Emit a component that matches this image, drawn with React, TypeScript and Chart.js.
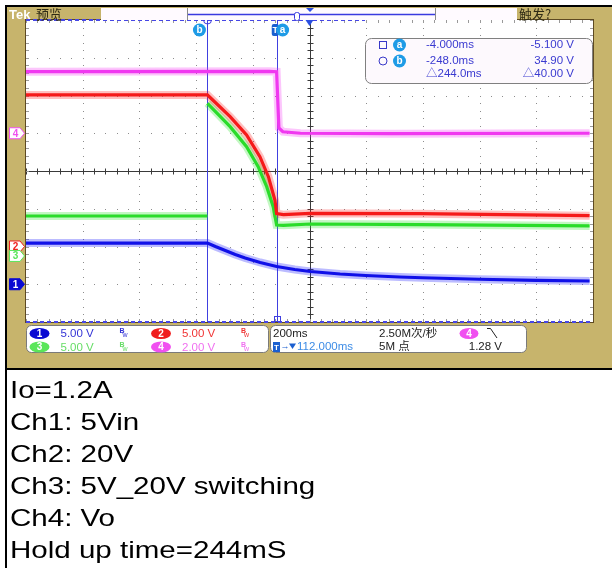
import React, { useEffect, useRef } from "react";
import { Chart, registerables } from "chart.js";

Chart.register(...registerables);

const W = 612;
const H = 568;

// Horizontal: 200 ms/div, 10 divisions, delay 112 ms
const timePerDivMs = 200;
const horizDelayMs = 112;
const horizDivs = 10;
const vertDivs = 8;

const channelLabels = ["1", "2", "3", "4"];
const channelVoltsPerDiv = [5, 5, 5, 2];
const channelGroundDiv = [-3, -2, -2.25, 1];
const channelScaleText = ["5.00 V", "5.00 V", "5.00 V", "2.00 V"];
const channelColors = ["#1010E8", "#F51A1A", "#2ADC2A", "#F038F0"];
const channelHalos = ["rgba(30,30,255,0.3)", "rgba(255,30,30,0.28)", "rgba(40,225,40,0.28)", "rgba(245,50,245,0.28)"];
const channelTextColors = ["#3434D6", "#F03434", "#66DD66", "#F070F0"];
const channelBadgeColors = ["#0A0AD2", "#F01E1E", "#5AE65A", "#F050F0"];

// Ch1: 5Vin
const ch1TimeMs = [-888, -248, -220, -185, -150, -115, -62, -4, 60, 115, 220, 310, 430, 510, 710, 910, 1100];
const ch1Volts = [5.46, 5.46, 5.0, 4.47, 3.94, 3.48, 2.88, 2.35, 1.95, 1.69, 1.36, 1.16, 0.96, 0.86, 0.66, 0.52, 0.43];
// Ch2: 20V
const ch2TimeMs = [-888, -248, -168, -110, -63, -33, -10, -4, 20, 115, 500, 1100];
const ch2Volts = [20.07, 20.07, 17.19, 14.77, 11.89, 9.25, 6.16, 4.35, 4.22, 4.4, 4.35, 4.08];
// Ch3: 5V_20V switching (fast edge at cursor b is not drawn as a trace)
const ch3TimeMs = [-888, -248, -248, -248, -168, -110, -69, -39, -16, -4, 20, 115, 500, 1100];
const ch3Volts = [5.29, 5.29, null, 20.22, 17.12, 14.47, 11.82, 9.17, 6.52, 4.1, 4.05, 4.23, 4.15, 3.97];
// Ch4: Vo
const ch4TimeMs = [-888, -30, -4, 4, 18, 80, 400, 1100];
const ch4Volts = [3.26, 3.28, 3.26, 0.28, 0.08, 0.0, -0.02, 0.0];

const cursorATimeMs = -4;
const cursorBTimeMs = -248;
const cursorTimeText = ["-4.000ms", "-248.0ms", "△244.0ms"];
const cursorVoltText = ["-5.100 V", "34.90 V", "△40.00 V"];

const timebaseText = "200ms";
const sampleRateText = "2.50M次/秒";
const recordText = "5M 点";
const triggerLevelText = "1.28 V";
const delayText = "112.000ms";

const captionLines = ["Io=1.2A", "Ch1: 5Vin", "Ch2: 20V", "Ch3: 5V_20V switching", "Ch4: Vo", "Hold up time=244mS"];

const KHAKI = "#C7B46C";
const UI = "'Liberation Sans', 'Noto Sans CJK SC', sans-serif";

function rr(ctx: CanvasRenderingContext2D, x: number, y: number, w: number, h: number, r: number) {
  ctx.beginPath();
  ctx.moveTo(x + r, y);
  ctx.lineTo(x + w - r, y);
  ctx.arcTo(x + w, y, x + w, y + r, r);
  ctx.lineTo(x + w, y + h - r);
  ctx.arcTo(x + w, y + h, x + w - r, y + h, r);
  ctx.lineTo(x + r, y + h);
  ctx.arcTo(x, y + h, x, y + h - r, r);
  ctx.lineTo(x, y + r);
  ctx.arcTo(x, y, x + r, y, r);
  ctx.closePath();
}

function badge(ctx: CanvasRenderingContext2D, cx: number, cy: number, rx: number, ry: number, fill: string, label: string) {
  ctx.beginPath();
  ctx.ellipse(cx, cy, rx, ry, 0, 0, Math.PI * 2);
  ctx.fillStyle = fill;
  ctx.fill();
  ctx.fillStyle = "#fff";
  ctx.font = `bold 10px ${UI}`;
  ctx.textAlign = "center";
  ctx.textBaseline = "middle";
  ctx.fillText(label, cx, cy + 0.5);
}

function bw(ctx: CanvasRenderingContext2D, x: number, y: number, color: string) {
  ctx.fillStyle = color;
  ctx.textAlign = "left";
  ctx.textBaseline = "middle";
  ctx.font = `bold 7px ${UI}`;
  ctx.fillText("B", x, y - 2);
  ctx.font = `7px ${UI}`;
  ctx.fillText("w", x + 3, y + 2);
}

const scopePlugin = {
  id: "scope",
  beforeDraw(chart: any) {
    const ctx: CanvasRenderingContext2D = chart.ctx;
    const a = chart.chartArea;
    const xs = chart.scales.x;
    const ys = chart.scales.y;
    const xMin = xs.min;
    const yMin = ys.min;
    ctx.save();
    ctx.fillStyle = "#fff";
    ctx.fillRect(0, 0, W, H);
    ctx.fillStyle = KHAKI;
    ctx.fillRect(7, 7, W - 7, 361);
    ctx.fillStyle = "#000";
    ctx.fillRect(5, 5, 2, H - 5);
    ctx.fillRect(5, 5, W - 5, 2);
    ctx.fillRect(5, 368, W - 5, 2);
    ctx.fillStyle = "#fff";
    ctx.fillRect(a.left, a.top, a.right - a.left, a.bottom - a.top);

    const gx = (i: number) => xs.getPixelForValue(xMin + (i * timePerDivMs) / 5);
    const gy = (j: number) => ys.getPixelForValue(yMin + j / 5);
    const nx = horizDivs * 5;
    const ny = vertDivs * 5;
    // dotted graticule
    ctx.fillStyle = "#8c8c8c";
    for (let i = 1; i < horizDivs; i++) {
      if (i === horizDivs / 2) continue;
      const x = Math.round(gx(i * 5));
      for (let j = 0; j <= ny; j++) ctx.fillRect(x, Math.round(gy(j)), 1, 1);
    }
    for (let j = 1; j < vertDivs; j++) {
      if (j === vertDivs / 2) continue;
      const y = Math.round(gy(j * 5));
      for (let i = 0; i <= nx; i++) ctx.fillRect(Math.round(gx(i)), y, 1, 1);
    }
    // center cross with ticks
    const xc = Math.round(gx(nx / 2)) + 0.5;
    const yc = Math.round(gy(ny / 2)) + 0.5;
    ctx.strokeStyle = "#3a3a3a";
    ctx.lineWidth = 1;
    ctx.beginPath();
    ctx.moveTo(xc, a.top);
    ctx.lineTo(xc, a.bottom);
    ctx.moveTo(a.left, yc);
    ctx.lineTo(a.right, yc);
    for (let j = 0; j <= ny; j++) {
      const y = Math.round(gy(j)) + 0.5;
      ctx.moveTo(xc - 3, y);
      ctx.lineTo(xc + 3, y);
    }
    for (let i = 0; i <= nx; i++) {
      const x = Math.round(gx(i)) + 0.5;
      ctx.moveTo(x, yc - 3);
      ctx.lineTo(x, yc + 3);
    }
    ctx.stroke();
    // edge ticks
    ctx.strokeStyle = "#9a9a9a";
    ctx.beginPath();
    for (let j = 0; j <= ny; j++) {
      const y = Math.round(gy(j)) + 0.5;
      ctx.moveTo(a.left, y);
      ctx.lineTo(a.left + 3, y);
      ctx.moveTo(a.right - 3, y);
      ctx.lineTo(a.right, y);
    }
    for (let i = 0; i <= nx; i++) {
      const x = Math.round(gx(i)) + 0.5;
      ctx.moveTo(x, a.top);
      ctx.lineTo(x, a.top + 3);
      ctx.moveTo(x, a.bottom - 3);
      ctx.lineTo(x, a.bottom);
    }
    ctx.stroke();
    // border
    ctx.strokeStyle = "#5E4A22";
    ctx.strokeRect(a.left - 0.5, a.top - 0.5, a.right - a.left + 1, a.bottom - a.top + 1);
    ctx.restore();
  },
  beforeDatasetsDraw(chart: any) {
    const ctx: CanvasRenderingContext2D = chart.ctx;
    const a = chart.chartArea;
    const xs = chart.scales.x;
    ctx.save();
    ctx.strokeStyle = "#4040E0";
    ctx.lineWidth = 1;
    [cursorATimeMs, cursorBTimeMs].forEach((t) => {
      const x = Math.round(xs.getPixelForValue(t)) + 0.5;
      ctx.beginPath();
      ctx.moveTo(x, a.top);
      ctx.lineTo(x, a.bottom);
      ctx.stroke();
    });
    ctx.restore();
  },
  afterDraw(chart: any) {
    const ctx: CanvasRenderingContext2D = chart.ctx;
    const a = chart.chartArea;
    const xs = chart.scales.x;
    const ys = chart.scales.y;
    ctx.save();

    // dashed blue record indicators
    ctx.strokeStyle = "#4646E6";
    ctx.lineWidth = 2;
    ctx.setLineDash([4, 3]);
    ctx.beginPath();
    ctx.moveTo(a.left, a.top);
    ctx.lineTo(365, a.top);
    ctx.moveTo(a.left, a.bottom);
    ctx.lineTo(a.right, a.bottom);
    ctx.stroke();
    ctx.setLineDash([]);
    ctx.lineWidth = 1;

    // cursor / trigger markers
    const xa = xs.getPixelForValue(cursorATimeMs);
    const xb = xs.getPixelForValue(cursorBTimeMs);
    const xt = xs.getPixelForValue(0);
    const xd = xs.getPixelForValue(horizDelayMs);
    ctx.strokeStyle = "#4040E0";
    ctx.beginPath();
    ctx.arc(Math.round(xb) + 0.5, a.top, 4, 0, Math.PI);
    ctx.stroke();
    badge(ctx, xb - 8, 30, 6.5, 6.5, "#1E9BE6", "b");
    ctx.fillStyle = "#1A5FD0";
    rr(ctx, xt - 6, 24, 7, 12, 2);
    ctx.fill();
    ctx.fillStyle = "#fff";
    ctx.font = `bold 9px ${UI}`;
    ctx.textAlign = "center";
    ctx.textBaseline = "middle";
    ctx.fillText("T", xt - 2.5, 30.5);
    badge(ctx, xa + 6, 30, 6.5, 6.5, "#1E9BE6", "a");
    ctx.fillStyle = "#2A4FE0";
    ctx.beginPath();
    ctx.moveTo(xd - 4, a.top);
    ctx.lineTo(xd + 4, a.top);
    ctx.lineTo(xd, a.top + 6);
    ctx.closePath();
    ctx.fill();
    ctx.strokeStyle = "#4040E0";
    ctx.strokeRect(Math.round(xa) - 2.5, a.bottom - 5.5, 6, 5);

    // cursor readout box
    rr(ctx, 365.5, 38.5, 227, 45, 6);
    ctx.fillStyle = "#FDF9FD";
    ctx.fill();
    ctx.strokeStyle = "#808080";
    ctx.stroke();
    ctx.strokeStyle = "#3838C8";
    ctx.strokeRect(379.5, 41.5, 7, 7);
    ctx.beginPath();
    ctx.arc(383, 61, 4, 0, Math.PI * 2);
    ctx.stroke();
    badge(ctx, 399.5, 45, 6.5, 6.5, "#1E9BE6", "a");
    badge(ctx, 399.5, 61, 6.5, 6.5, "#1E9BE6", "b");
    const rowsY = [45, 61, 74];
    ctx.font = `11.5px ${UI}`;
    ctx.fillStyle = "#3A3AD0";
    ctx.textBaseline = "middle";
    rowsY.forEach((y, i) => {
      ctx.textAlign = "left";
      ctx.fillText(cursorTimeText[i], 426, y);
      ctx.textAlign = "right";
      ctx.fillText(cursorVoltText[i], 574, y);
    });

    // left ground markers
    channelLabels.forEach((lab, ch) => {
      const cy = ys.getPixelForValue(channelGroundDiv[ch]);
      ctx.beginPath();
      ctx.moveTo(9.5, cy - 5.5);
      ctx.lineTo(20, cy - 5.5);
      ctx.lineTo(24.5, cy);
      ctx.lineTo(20, cy + 5.5);
      ctx.lineTo(9.5, cy + 5.5);
      ctx.closePath();
      const filled = ch === 0;
      ctx.fillStyle = filled ? channelBadgeColors[ch] : "#fff";
      ctx.fill();
      ctx.strokeStyle = channelBadgeColors[ch];
      ctx.stroke();
      ctx.fillStyle = filled ? "#fff" : channelBadgeColors[ch];
      ctx.font = `bold 10px ${UI}`;
      ctx.textAlign = "center";
      ctx.textBaseline = "middle";
      ctx.fillText(lab, 15.5, cy + 0.5);
    });

    // top bar
    ctx.textAlign = "left";
    ctx.textBaseline = "alphabetic";
    ctx.fillStyle = "#fff";
    ctx.font = `bold 13px ${UI}`;
    ctx.fillText("Tek", 9, 18.5);
    ctx.fillStyle = "#2E2A14";
    ctx.font = `13px 'Noto Sans CJK SC', sans-serif`;
    ctx.fillText("预览", 36, 19);
    ctx.fillText("触发?", 519, 19);
    ctx.fillStyle = "#FFFAFF";
    ctx.fillRect(101, 8, 416, 12);
    ctx.strokeStyle = "#8a8a8a";
    ctx.beginPath();
    ctx.moveTo(187.5, 8);
    ctx.lineTo(187.5, 20);
    ctx.moveTo(435.5, 8);
    ctx.lineTo(435.5, 20);
    ctx.stroke();
    ctx.strokeStyle = "#3A3AE0";
    ctx.lineWidth = 1.5;
    ctx.beginPath();
    ctx.moveTo(188, 14.5);
    ctx.lineTo(435, 14.5);
    ctx.stroke();
    ctx.lineWidth = 1;
    ctx.fillStyle = "#fff";
    rr(ctx, 294.5, 12.5, 5, 8, 2);
    ctx.fill();
    ctx.stroke();
    ctx.fillStyle = "#2A4FE0";
    ctx.beginPath();
    ctx.moveTo(306, 8);
    ctx.lineTo(314, 8);
    ctx.lineTo(310, 12);
    ctx.closePath();
    ctx.fill();

    // bottom status boxes
    ctx.strokeStyle = "#7a7a7a";
    rr(ctx, 26.5, 325.5, 242, 27, 5);
    ctx.fillStyle = "#fff";
    ctx.fill();
    ctx.stroke();
    rr(ctx, 270.5, 325.5, 256, 27, 5);
    ctx.fill();
    ctx.stroke();
    const rowY = [333.5, 347];
    channelLabels.forEach((lab, ch) => {
      const col = ch === 0 || ch === 2 ? 0 : 1;
      const row = ch < 2 ? 0 : 1;
      const bx = col === 0 ? 39.5 : 161;
      const y = rowY[row];
      badge(ctx, bx, y, 10, 5.5, channelBadgeColors[ch], lab);
      ctx.fillStyle = channelTextColors[ch];
      ctx.font = `11.5px ${UI}`;
      ctx.textAlign = "left";
      ctx.textBaseline = "middle";
      ctx.fillText(channelScaleText[ch], bx + 21, y + 0.5);
      bw(ctx, bx + 80, y, channelTextColors[ch]);
    });
    ctx.fillStyle = "#222";
    ctx.font = `11.5px ${UI}`;
    ctx.textAlign = "left";
    ctx.textBaseline = "middle";
    ctx.fillText(timebaseText, 273, rowY[0]);
    ctx.fillText(sampleRateText, 379, rowY[0]);
    ctx.fillText(recordText, 379, rowY[1]);
    ctx.textAlign = "right";
    ctx.fillText(triggerLevelText, 502, rowY[1]);
    badge(ctx, 469, rowY[0], 9.5, 5.5, "#F050F0", "4");
    ctx.strokeStyle = "#222";
    ctx.beginPath();
    ctx.moveTo(487, 328.5);
    ctx.lineTo(490.5, 328.5);
    ctx.lineTo(497, 338);
    ctx.stroke();
    ctx.fillStyle = "#1A5FD0";
    ctx.fillRect(273, 342, 7, 10);
    ctx.fillStyle = "#fff";
    ctx.font = `bold 8px ${UI}`;
    ctx.textAlign = "center";
    ctx.fillText("T", 276.5, 347.5);
    ctx.fillStyle = "#1A5FD0";
    ctx.font = `bold 9px ${UI}`;
    ctx.fillText("→", 285, 347);
    ctx.beginPath();
    ctx.moveTo(289, 343.5);
    ctx.lineTo(296, 343.5);
    ctx.lineTo(292.5, 349);
    ctx.closePath();
    ctx.fill();
    ctx.fillStyle = "#3D8CE6";
    ctx.font = `11.5px ${UI}`;
    ctx.textAlign = "left";
    ctx.fillText(delayText, 297, rowY[1]);

    ctx.restore();
  },
};

export default function App() {
  const ref = useRef<HTMLCanvasElement>(null);
  useEffect(() => {
    const canvas = ref.current;
    if (!canvas) return;
    const series: [number[], (number | null)[]][] = [
      [ch1TimeMs, ch1Volts],
      [ch2TimeMs, ch2Volts],
      [ch3TimeMs, ch3Volts],
      [ch4TimeMs, ch4Volts],
    ];
    const toDiv = (t: number[], v: (number | null)[], ch: number) =>
      t.map((x, i) => ({ x, y: v[i] === null ? null : (v[i] as number) / channelVoltsPerDiv[ch] + channelGroundDiv[ch] }));
    const cores = series.map(([t, v], ch) => ({
      label: "Ch" + (ch + 1),
      data: toDiv(t, v, ch),
      borderColor: channelColors[ch],
      borderWidth: 3.2,
      pointRadius: 0,
      tension: 0,
      fill: false,
      spanGaps: false,
      clip: 0,
    }));
    const halos = series.map(([t, v], ch) => ({
      label: "Ch" + (ch + 1) + " halo",
      data: toDiv(t, v, ch),
      borderColor: channelHalos[ch],
      borderWidth: 8,
      pointRadius: 0,
      tension: 0,
      fill: false,
      spanGaps: false,
      clip: 0,
    }));
    const xMin = horizDelayMs - (horizDivs / 2) * timePerDivMs;
    const xMax = horizDelayMs + (horizDivs / 2) * timePerDivMs;
    const chart = new Chart(canvas, {
      type: "line",
      data: { datasets: [...cores, ...halos] as any },
      options: {
        animation: false,
        responsive: false,
        devicePixelRatio: 1,
        events: [],
        layout: { padding: { left: 26, top: 20, right: 19, bottom: 246 } },
        plugins: { legend: { display: false }, tooltip: { enabled: false } },
        scales: {
          x: { type: "linear", min: xMin, max: xMax, display: false },
          y: { type: "linear", min: -vertDivs / 2, max: vertDivs / 2, display: false },
        },
      },
      plugins: [scopePlugin as any],
    });
    return () => chart.destroy();
  }, []);
  return (
    <div style={{ position: "absolute", left: 0, top: 0, width: W, height: H, background: "#fff", overflow: "hidden" }}>
      <canvas ref={ref} width={W} height={H} style={{ position: "absolute", left: 0, top: 0, width: W, height: H }} />
      {captionLines.map((s, i) => (
        <div
          key={i}
          style={{
            position: "absolute",
            left: 10,
            top: 378 + i * 32,
            font: "24px 'Liberation Sans', Arial, sans-serif",
            lineHeight: "24px",
            whiteSpace: "nowrap",
            color: "#000",
            transform: "scaleX(1.23)",
            transformOrigin: "0 0",
          }}
        >
          {s}
        </div>
      ))}
    </div>
  );
}
